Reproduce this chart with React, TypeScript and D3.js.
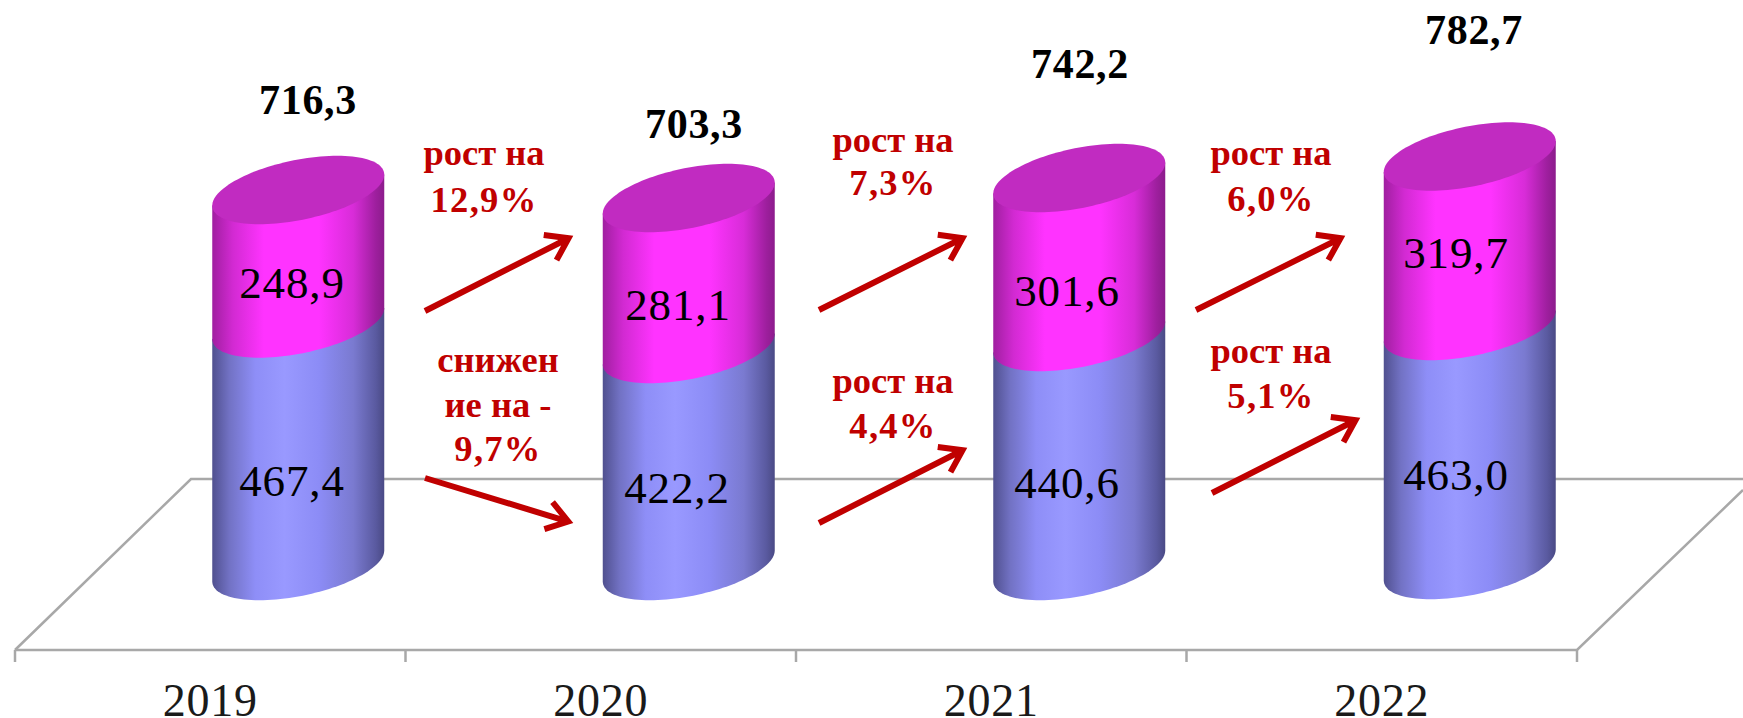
import React from "react";
import * as d3 from "d3";

// ---- data ----
const years = ["2019", "2020", "2021", "2022"];
const lowerValues = [467.4, 422.2, 440.6, 463.0];
const upperValues = [248.9, 281.1, 301.6, 319.7];
const totalValues = [716.3, 703.3, 742.2, 782.7];
const changeNotes = [
  ["рост на", "12,9%"],
  ["снижен", "ие на -", "9,7%"],
  ["рост на", "7,3%"],
  ["рост на", "4,4%"],
  ["рост на", "6,0%"],
  ["рост на", "5,1%"],
];

// ---- layout (hand-placed in the source picture, so not derived from values) ----
const W = 1743;
const H = 718;
const floor = { x0: 15, x1: 1577, front: 650, back: 479, depth: 176, tick: 662, rightEndY: 490 };
const cylDepthOffset = 88;
const baseMid = [566, 566, 566, 565];
const splitMid = [323.5, 349, 337, 326];
const topMid = [190, 198, 178, 156.5];
const lowerLabel = [{ x: 292, y: 496 }, { x: 677, y: 503 }, { x: 1067, y: 498 }, { x: 1456, y: 490 }];
const upperLabel = [{ x: 292, y: 298 }, { x: 678, y: 320 }, { x: 1067, y: 306 }, { x: 1456, y: 268 }];
const totalLabel = [{ x: 308, y: 114 }, { x: 694, y: 138 }, { x: 1080, y: 78 }, { x: 1474, y: 44 }];
const noteLayout = [
  { x: 484, ys: [165, 212] },
  { x: 498, ys: [372, 417, 461] },
  { x: 893, ys: [152, 195] },
  { x: 893, ys: [393, 438] },
  { x: 1271, ys: [165, 211] },
  { x: 1271, ys: [363, 408] },
];
const arrowLayout = [
  [425, 311, 573, 236],
  [425, 478, 573, 523],
  [819, 310, 967, 236],
  [819, 523, 967, 448],
  [1196, 310, 1345, 236],
  [1212, 493, 1360, 418],
];

const RX = 86;
const RY = 30.5;
const SHEAR = 15.5;
const SERIF = "'Liberation Serif', 'Times New Roman', serif";
const RED = "#c00000";
const GRID = "#a8a8a8";

const xBand = d3.scaleBand<string>().domain(years).range([floor.x0, floor.x1]).padding(0);
const lineGen = d3.line<[number, number]>().x((d) => d[0]).y((d) => d[1]);

function ellipsePoint(cx: number, cy: number, t: number): [number, number] {
  return [cx + RX * Math.cos(t), cy + RY * Math.sin(t) - SHEAR * Math.cos(t)];
}
const lowerArcT = d3.range(0, 61).map((i) => (i / 60) * Math.PI);
const fullT = d3.range(0, 121).map((i) => (i / 120) * 2 * Math.PI);

function segment(cx: number, topY: number, botY: number): string {
  const arc = lowerArcT.map((t) => ellipsePoint(cx, botY, t));
  const pts: [number, number][] = [[cx - RX, topY + SHEAR], [cx + RX, topY - SHEAR], ...arc];
  return lineGen(pts) + "Z";
}

function arrowPath(a: number[]): string {
  const [x0, y0, x1, y1] = a;
  const ang = Math.atan2(y1 - y0, x1 - x0);
  const len = 25;
  const spread = 0.6;
  const ax = x1 - 5 * Math.cos(ang);
  const ay = y1 - 5 * Math.sin(ang);
  const back = (s: number): [number, number] => [
    ax - len * Math.cos(ang + s * spread),
    ay - len * Math.sin(ang + s * spread),
  ];
  return lineGen([[x0, y0], [ax, ay]]) + lineGen([back(1), [ax, ay], back(-1)]);
}

const fmt = (v: number) => v.toFixed(1).replace(".", ",");

export default function App() {
  return (
    <svg
      width={W}
      height={H}
      viewBox={`0 0 ${W} ${H}`}
      style={{ position: "absolute", left: 0, top: 0, display: "block", background: "#fff" }}
    >
      <defs>
        <linearGradient id="blueBody" x1="0" x2="1" y1="0" y2="0">
          <stop offset="0" stopColor="#50508f" />
          <stop offset="0.1" stopColor="#7272c4" />
          <stop offset="0.25" stopColor="#8e8ef7" />
          <stop offset="0.42" stopColor="#9999ff" />
          <stop offset="0.62" stopColor="#8c8cf6" />
          <stop offset="0.82" stopColor="#7a7ad0" />
          <stop offset="0.95" stopColor="#5a5aa0" />
          <stop offset="1" stopColor="#4a4a85" />
        </linearGradient>
        <linearGradient id="magentaBody" x1="0" x2="1" y1="0" y2="0">
          <stop offset="0" stopColor="#a01fa0" />
          <stop offset="0.12" stopColor="#d22ad2" />
          <stop offset="0.3" stopColor="#ff33ff" />
          <stop offset="0.62" stopColor="#ff33ff" />
          <stop offset="0.82" stopColor="#d82cd8" />
          <stop offset="0.95" stopColor="#9e1f9e" />
          <stop offset="1" stopColor="#8c1c8c" />
        </linearGradient>
      </defs>

      {/* floor */}
      <g fill="none" stroke={GRID} strokeWidth={2.5}>
        <path d={lineGen([[floor.x0, floor.front], [floor.x0 + floor.depth, floor.back], [W, floor.back]]) ?? ""} />
        <path d={lineGen([[floor.x0, floor.front], [floor.x1, floor.front], [W, floor.rightEndY]]) ?? ""} />
        {[...years.map((y) => xBand(y) as number), floor.x1].map((x, i) => (
          <line key={i} x1={x} x2={x} y1={floor.front} y2={floor.tick} />
        ))}
      </g>

      {/* cylinders */}
      {years.map((yr, i) => {
        const cx = (xBand(yr) as number) + xBand.bandwidth() / 2 + cylDepthOffset;
        const y = d3
          .scaleLinear()
          .domain([0, lowerValues[i], lowerValues[i] + upperValues[i]])
          .range([baseMid[i], splitMid[i], topMid[i]]);
        const y0 = y(0);
        const y1 = y(lowerValues[i]);
        const y2 = y(lowerValues[i] + upperValues[i]);
        return (
          <g key={yr}>
            <path d={segment(cx, y1, y0)} fill="url(#blueBody)" />
            <path d={segment(cx, y2, y1)} fill="url(#magentaBody)" />
            <path d={(lineGen(fullT.map((t) => ellipsePoint(cx, y2, t))) ?? "") + "Z"} fill="#c12bc1" />
          </g>
        );
      })}

      {/* segment values */}
      <g fontFamily={SERIF} fontSize={45} letterSpacing={0.9} fill="#000" textAnchor="middle">
        {lowerValues.map((v, i) => (
          <text key={i} x={lowerLabel[i].x} y={lowerLabel[i].y}>{fmt(v)}</text>
        ))}
        {upperValues.map((v, i) => (
          <text key={i} x={upperLabel[i].x} y={upperLabel[i].y}>{fmt(v)}</text>
        ))}
      </g>

      {/* totals */}
      <g fontFamily={SERIF} fontSize={42} letterSpacing={0.7} fontWeight="bold" fill="#000" textAnchor="middle">
        {totalValues.map((v, i) => (
          <text key={i} x={totalLabel[i].x} y={totalLabel[i].y}>{fmt(v)}</text>
        ))}
      </g>

      {/* category labels */}
      <g fontFamily={SERIF} fontSize={46} letterSpacing={0.8} fill="#1a1a1a" textAnchor="middle">
        {years.map((yr) => (
          <text key={yr} x={(xBand(yr) as number) + xBand.bandwidth() / 2} y={716}>{yr}</text>
        ))}
      </g>

      {/* change notes */}
      <g fontFamily={SERIF} fontSize={36.5} fontWeight="bold" fill={RED} textAnchor="middle">
        {changeNotes.map((lines, i) =>
          lines.map((ln, j) => (
            <text
              key={`${i}-${j}`}
              x={noteLayout[i].x}
              y={noteLayout[i].ys[j]}
              letterSpacing={ln.includes("%") ? 1.3 : 0}
            >
              {ln}
            </text>
          ))
        )}
      </g>

      {/* arrows */}
      <g fill="none" stroke={RED} strokeWidth={6} strokeLinejoin="miter">
        {arrowLayout.map((a, i) => (
          <path key={i} d={arrowPath(a)} />
        ))}
      </g>
    </svg>
  );
}
